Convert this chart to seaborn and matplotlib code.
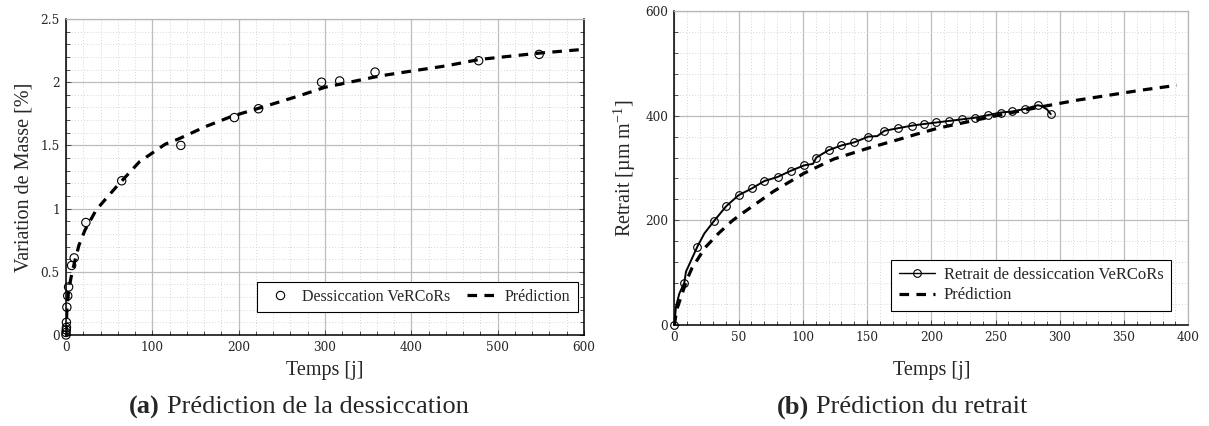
import numpy as np
import pandas as pd
import matplotlib
matplotlib.use("Agg")
import matplotlib.pyplot as plt
from matplotlib.ticker import MultipleLocator, FuncFormatter
from matplotlib.lines import Line2D
import seaborn as sns

# ---------------- data ----------------
# (a) mass variation measurements
mass_t = [0, 0, 0.3, 0.5, 0.5, 1, 2, 3, 6.5, 9.5, 23, 64.5, 133, 195, 223, 296, 317, 358, 478, 548]
mass_v = [0, 0.02, 0.04, 0.06, 0.10, 0.22, 0.31, 0.38, 0.55, 0.61, 0.89, 1.22, 1.50, 1.72, 1.79,
          2.00, 2.01, 2.08, 2.17, 2.22]
# (a) prediction curve
pred_a_t = [0, 1, 3, 6, 10, 15, 22, 35, 58, 85, 115, 130, 162, 192, 231, 269, 300, 364, 402, 441,
            479, 548, 600]
pred_a_v = [0, 0.20, 0.35, 0.46, 0.58, 0.71, 0.83, 0.99, 1.17, 1.37, 1.51, 1.55, 1.65, 1.73, 1.81,
            1.89, 1.96, 2.05, 2.09, 2.13, 2.18, 2.23, 2.26]

# (b) measured drying shrinkage
shr_t = [0, 1.3, 3.9, 7.8, 9.1, 18, 23.4, 31, 40.4, 50, 60.4, 70, 80.5, 91, 101, 108, 110.5, 120,
         130, 140, 151, 158, 163.5, 174, 185, 194, 204, 214, 224, 234, 244, 254, 263, 273, 283,
         286, 290, 293]
shr_v = [0, 35, 60, 81, 102, 150, 175, 199, 227, 248, 261, 275, 283, 295, 305, 308, 320, 334,
         343, 349, 360, 361, 371, 376, 381, 384, 387, 390, 393, 396, 401, 406, 408, 413, 420,
         418, 412, 403]
shr_marked = [True, False, False, True, False, True, False, True, True, True, True, True, True,
              True, True, False, True, True, True, True, True, False, True, True, True, True, True,
              True, True, True, True, True, True, True, True, False, False, True]
# (b) prediction curve
pred_b_t = [0, 2, 5, 9.7, 13.6, 24, 34.4, 45, 51, 77, 101, 124, 151, 174, 189, 205, 226, 247,
            267, 288, 312, 338, 364, 391]
pred_b_v = [0, 30, 52, 86, 108, 148, 175, 199, 210, 255, 290, 317, 338, 354, 365, 376, 387, 398,
            408, 418, 429, 439, 449, 458]

xlabel = "Temps [j]"
ylabel_a = "Variation de Masse [%]"
ylabel_b = "Retrait [µm m$^{-1}$]"
legend_a = ["Dessiccation VeRCoRs", "Prédiction"]
legend_b = ["Retrait de dessiccation VeRCoRs", "Prédiction"]
caption_a = ("(a)", "Prédiction de la dessiccation")
caption_b = ("(b)", "Prédiction du retrait")

# ---------------- style ----------------
sns.set_style("white")
plt.rcParams["font.family"] = ["Liberation Serif", "DejaVu Serif"]
plt.rcParams["mathtext.fontset"] = "custom"
plt.rcParams["mathtext.rm"] = "Liberation Serif"
plt.rcParams["mathtext.it"] = "Liberation Serif:italic"
plt.rcParams["path.simplify"] = False

W, H = 1209, 426
fig = plt.figure(figsize=(W / 100, H / 100), dpi=100)
ax_a = fig.add_axes([66 / W, 1 - 335 / H, 518 / W, 316 / H])
ax_b = fig.add_axes([674.3 / W, 1 - 325 / H, 514 / W, 314 / H])

TICKFONT = dict(family=["DejaVu Serif"], size=8.7)
DASH = (0, (3.0, 2.3))


def style_axes(ax, xmaj, xmin, ymaj, ymin, right_black):
    ax.xaxis.set_major_locator(MultipleLocator(xmaj))
    ax.xaxis.set_minor_locator(MultipleLocator(xmin))
    ax.yaxis.set_major_locator(MultipleLocator(ymaj))
    ax.yaxis.set_minor_locator(MultipleLocator(ymin))
    ax.grid(True, which="major", color="#bdbdbd", lw=0.9, ls="-")
    ax.grid(True, which="minor", color="#c8c8c8", lw=0.6, ls=(0, (1, 2.5)))
    ax.set_axisbelow(True)
    ax.tick_params(which="both", direction="in", color="#333333", width=0.6,
                   bottom=True, left=True, top=False, right=right_black)
    ax.tick_params(which="major", length=3.5, pad=4.5)
    ax.tick_params(which="minor", length=3.0)
    ax.xaxis.set_major_formatter(FuncFormatter(lambda v, p: f"{v:g}"))
    ax.yaxis.set_major_formatter(FuncFormatter(lambda v, p: f"{v:g}"))
    for lab in ax.get_xticklabels() + ax.get_yticklabels():
        lab.set_fontfamily(TICKFONT["family"])
        lab.set_fontsize(TICKFONT["size"])
    for s in ["left", "bottom"]:
        ax.spines[s].set_color("black")
        ax.spines[s].set_linewidth(1.1)
    ax.spines["top"].set_color("#b5b5b5")
    ax.spines["top"].set_linewidth(0.9)
    ax.spines["right"].set_color("black" if right_black else "#b5b5b5")
    ax.spines["right"].set_linewidth(1.1 if right_black else 0.9)


# ---------------- (a) ----------------
sns.lineplot(x=pred_a_t, y=pred_a_v, ax=ax_a, color="black", lw=2.3, sort=False,
             estimator=None, zorder=3)
for ln in ax_a.lines:
    ln.set_linestyle(DASH)
    ln.set_dash_capstyle("butt")
sns.scatterplot(x=mass_t, y=mass_v, ax=ax_a, marker="o", s=36, facecolor="none",
                edgecolor="black", linewidth=0.8, zorder=4, clip_on=False)
ax_a.set_xlim(0, 600)
ax_a.set_ylim(0, 2.5)
style_axes(ax_a, 100, 20, 0.5, 0.1, right_black=True)
ax_a.set_xlabel(xlabel, fontsize=14.5, labelpad=5)
ax_a.set_ylabel(ylabel_a, fontsize=14.5, labelpad=5)

h_a = [Line2D([], [], ls="none", marker="o", markersize=6, markerfacecolor="none",
              markeredgecolor="black", markeredgewidth=0.8),
       Line2D([], [], color="black", lw=2.3, linestyle=DASH)]
leg = ax_a.legend(h_a, legend_a, loc="lower right", bbox_to_anchor=(0.988, 0.073), ncol=2,
                  fontsize=11.5, frameon=True, fancybox=False, framealpha=1,
                  edgecolor="black", handlelength=2.0, handletextpad=0.4, columnspacing=1.0,
                  borderpad=0.45, borderaxespad=0)
leg.get_frame().set_linewidth(0.8)

# ---------------- (b) ----------------
sns.lineplot(x=pred_b_t, y=pred_b_v, ax=ax_b, color="black", lw=2.3, sort=False,
             estimator=None, zorder=3)
for ln in ax_b.lines:
    ln.set_linestyle(DASH)
    ln.set_dash_capstyle("butt")
sns.lineplot(x=shr_t, y=shr_v, ax=ax_b, color="black", lw=1.4, sort=False, estimator=None,
             marker="o", markevery=shr_marked, markersize=5.5, markerfacecolor="none",
             markeredgecolor="black", markeredgewidth=0.8, zorder=4, clip_on=False)
ax_b.set_xlim(0, 400)
ax_b.set_ylim(0, 600)
style_axes(ax_b, 50, 10, 200, 40, right_black=False)
ax_b.set_xlabel(xlabel, fontsize=14.5, labelpad=12)
ax_b.set_ylabel(ylabel_b, fontsize=14.5, labelpad=5)

h_b = [Line2D([], [], color="black", lw=1.0, marker="o", markersize=5.5,
              markerfacecolor="none", markeredgecolor="black", markeredgewidth=0.8),
       Line2D([], [], color="black", lw=2.3, linestyle=DASH)]
leg = ax_b.legend(h_b, legend_b, loc="lower right", bbox_to_anchor=(0.966, 0.045), ncol=1,
                  fontsize=12, frameon=True, fancybox=False, framealpha=1,
                  edgecolor="black", handlelength=2.2, handletextpad=0.5,
                  borderpad=0.45, borderaxespad=0, labelspacing=0.25)
leg.get_frame().set_linewidth(0.8)

# ---------------- captions ----------------
cy = 1 - 407 / H
fig.text(160 / W, cy, caption_a[0], ha="right", va="center", fontsize=19, fontweight="bold")
fig.text(166.7 / W, cy, caption_a[1], ha="left", va="center", fontsize=19)
fig.text(809.5 / W, cy, caption_b[0], ha="right", va="center", fontsize=19, fontweight="bold")
fig.text(816 / W, cy, caption_b[1], ha="left", va="center", fontsize=19)

fig.savefig("out.png", dpi=100)
